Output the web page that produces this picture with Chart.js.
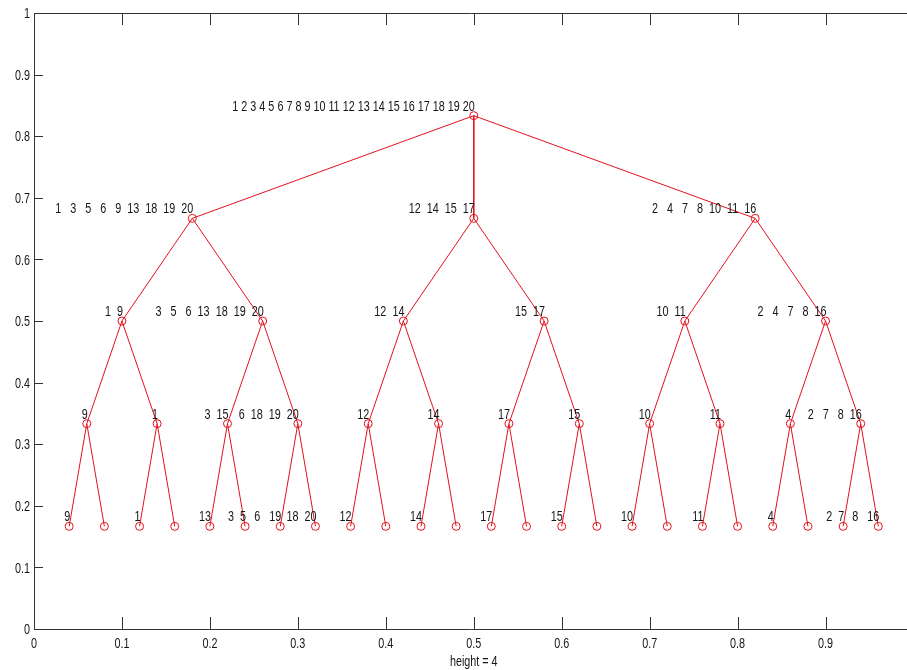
<!DOCTYPE html>
<html>
<head>
<meta charset="utf-8">
<title>treeplot, height = 4</title>
<script src="https://cdn.jsdelivr.net/npm/chart.js@4.4.0/dist/chart.umd.min.js"></script>
<style>
  html, body { margin: 0; padding: 0; background: #fff; }
  #wrap { width: 907px; height: 670px; }
</style>
</head>
<body>
<div id="wrap"><canvas id="tree" width="907" height="670"></canvas></div>
<script>
// tree nodes: x position, depth, parent index (-1 = root), label
const nodeX = [
  0.50,
  0.18, 0.50, 0.82,
  0.10, 0.26, 0.42, 0.58, 0.74, 0.90,
  0.06, 0.14, 0.22, 0.30, 0.38, 0.46, 0.54, 0.62, 0.70, 0.78, 0.86, 0.94,
  0.04, 0.08, 0.12, 0.16, 0.20, 0.24, 0.28, 0.32, 0.36, 0.40, 0.44, 0.48,
  0.52, 0.56, 0.60, 0.64, 0.68, 0.72, 0.76, 0.80, 0.84, 0.88, 0.92, 0.96
];
const nodeDepth = [
  0,
  1, 1, 1,
  2, 2, 2, 2, 2, 2,
  3, 3, 3, 3, 3, 3, 3, 3, 3, 3, 3, 3,
  4, 4, 4, 4, 4, 4, 4, 4, 4, 4, 4, 4, 4, 4, 4, 4, 4, 4, 4, 4, 4, 4, 4, 4
];
const nodeParent = [
  -1,
  0, 0, 0,
  1, 1, 2, 2, 3, 3,
  4, 4, 5, 5, 6, 6, 7, 7, 8, 8, 9, 9,
  10, 10, 11, 11, 12, 12, 13, 13, 14, 14, 15, 15,
  16, 16, 17, 17, 18, 18, 19, 19, 20, 20, 21, 21
];
const nodeLabel = [
  '1 2 3 4 5 6 7 8 9 10 11 12 13 14 15 16 17 18 19 20',
  '1   3   5   6   9  13  18  19  20', '12  14  15  17', '2   4   7   8  10  11  16',
  '1  9', '3   5   6  13  18  19  20', '12  14', '15  17', '10  11', '2   4   7   8  16',
  '9', '1', '3  15', '6  18  19  20', '12', '14', '17', '15', '10', '11', '4', '2   7   8  16',
  '9', '', '1', '', '13', '3  5', '6   19', '18  20', '12', '', '14', '',
  '17', '', '15', '', '10', '', '11', '', '4', '', '2  7', '8   16'
];
const treeHeight = 4;

const xTicks = [0, 0.1, 0.2, 0.3, 0.4, 0.5, 0.6, 0.7, 0.8, 0.9];
const xTickLabels = ['0', '0.1', '0.2', '0.3', '0.4', '0.5', '0.6', '0.7', '0.8', '0.9'];
const yTicks = [0, 0.1, 0.2, 0.3, 0.4, 0.5, 0.6, 0.7, 0.8, 0.9, 1];
const yTickLabels = ['0', '0.1', '0.2', '0.3', '0.4', '0.5', '0.6', '0.7', '0.8', '0.9', '1'];

const RED = '#e3101c';
const INK = '#151515';
const FONT = '15px "Liberation Sans", Arial, sans-serif';
const SQUISH = 0.72; // matlab's narrow helvetica look

// depth -> y like treeplot: (height + 1 - depth) / (height + 2)
function depthY(d) { return (treeHeight + 1 - d) / (treeHeight + 2); }

const points = nodeX.map((x, i) => ({ x, y: depthY(nodeDepth[i]) }));

// one small dataset per edge
const edgeSets = [];
for (let i = 0; i < points.length; i++) {
  const p = nodeParent[i];
  if (p < 0) continue;
  edgeSets.push({
    data: [points[p], points[i]],
    showLine: true,
    borderColor: RED,
    borderWidth: 1,
    pointRadius: 0,
    pointHoverRadius: 0,
    order: 2
  });
}

function narrowText(ctx, txt, x, y, align, base) {
  ctx.save();
  ctx.translate(x, y);
  ctx.scale(SQUISH, 1);
  ctx.textAlign = align;
  ctx.textBaseline = base;
  ctx.fillText(txt, 0, 0);
  ctx.restore();
}

// frame, inward ticks, tick labels, node labels
const matlabAxes = {
  id: 'matlabAxes',
  afterDatasetsDraw(chart) {
    const { ctx, chartArea: a, scales: { x, y } } = chart;
    ctx.save();
    ctx.strokeStyle = '#333';
    ctx.lineWidth = 1;
    ctx.beginPath();
    ctx.moveTo(a.right + 10, a.top + 0.5);
    ctx.lineTo(a.left + 0.5, a.top + 0.5);
    ctx.lineTo(a.left + 0.5, a.bottom + 0.5);
    ctx.lineTo(a.right + 10, a.bottom + 0.5);
    xTicks.forEach(v => {
      const px = Math.round(x.getPixelForValue(v)) + 0.5;
      ctx.moveTo(px, a.bottom); ctx.lineTo(px, a.bottom - 12);
      ctx.moveTo(px, a.top); ctx.lineTo(px, a.top + 12);
    });
    yTicks.forEach(v => {
      const py = Math.round(y.getPixelForValue(v)) + 0.5;
      ctx.moveTo(a.left, py); ctx.lineTo(a.left + 9, py);
    });
    ctx.stroke();

    ctx.fillStyle = INK;
    ctx.font = FONT;
    xTicks.forEach((v, i) => narrowText(ctx, xTickLabels[i], x.getPixelForValue(v), a.bottom + 7, 'center', 'top'));
    yTicks.forEach((v, i) => narrowText(ctx, yTickLabels[i], a.left - 4, y.getPixelForValue(v) + 1, 'right', 'middle'));
    narrowText(ctx, 'height = ' + treeHeight, (x.getPixelForValue(0) + x.getPixelForValue(1)) / 2, a.bottom + 25, 'center', 'top');

    points.forEach((p, i) => {
      if (!nodeLabel[i]) return;
      narrowText(ctx, nodeLabel[i], x.getPixelForValue(p.x) + 1, y.getPixelForValue(p.y) - 5, 'right', 'alphabetic');
    });
    ctx.restore();
  }
};

new Chart(document.getElementById('tree'), {
  type: 'scatter',
  data: {
    datasets: [
      ...edgeSets,
      {
        data: points,
        pointStyle: 'circle',
        pointRadius: 4,
        pointHoverRadius: 4,
        pointBorderWidth: 1,
        borderColor: RED,
        backgroundColor: 'rgba(0,0,0,0)',
        order: 1
      }
    ]
  },
  options: {
    responsive: false,
    animation: false,
    events: [],
    layout: { autoPadding: false, padding: { left: 34, top: 13, right: 0, bottom: 41 } },
    scales: {
      x: { type: 'linear', display: false, min: 0, max: 873 / 879.5 },
      y: { type: 'linear', display: false, min: 0, max: 1 }
    },
    plugins: {
      legend: { display: false },
      tooltip: { enabled: false }
    }
  },
  plugins: [matlabAxes]
});
</script>
</body>
</html>
